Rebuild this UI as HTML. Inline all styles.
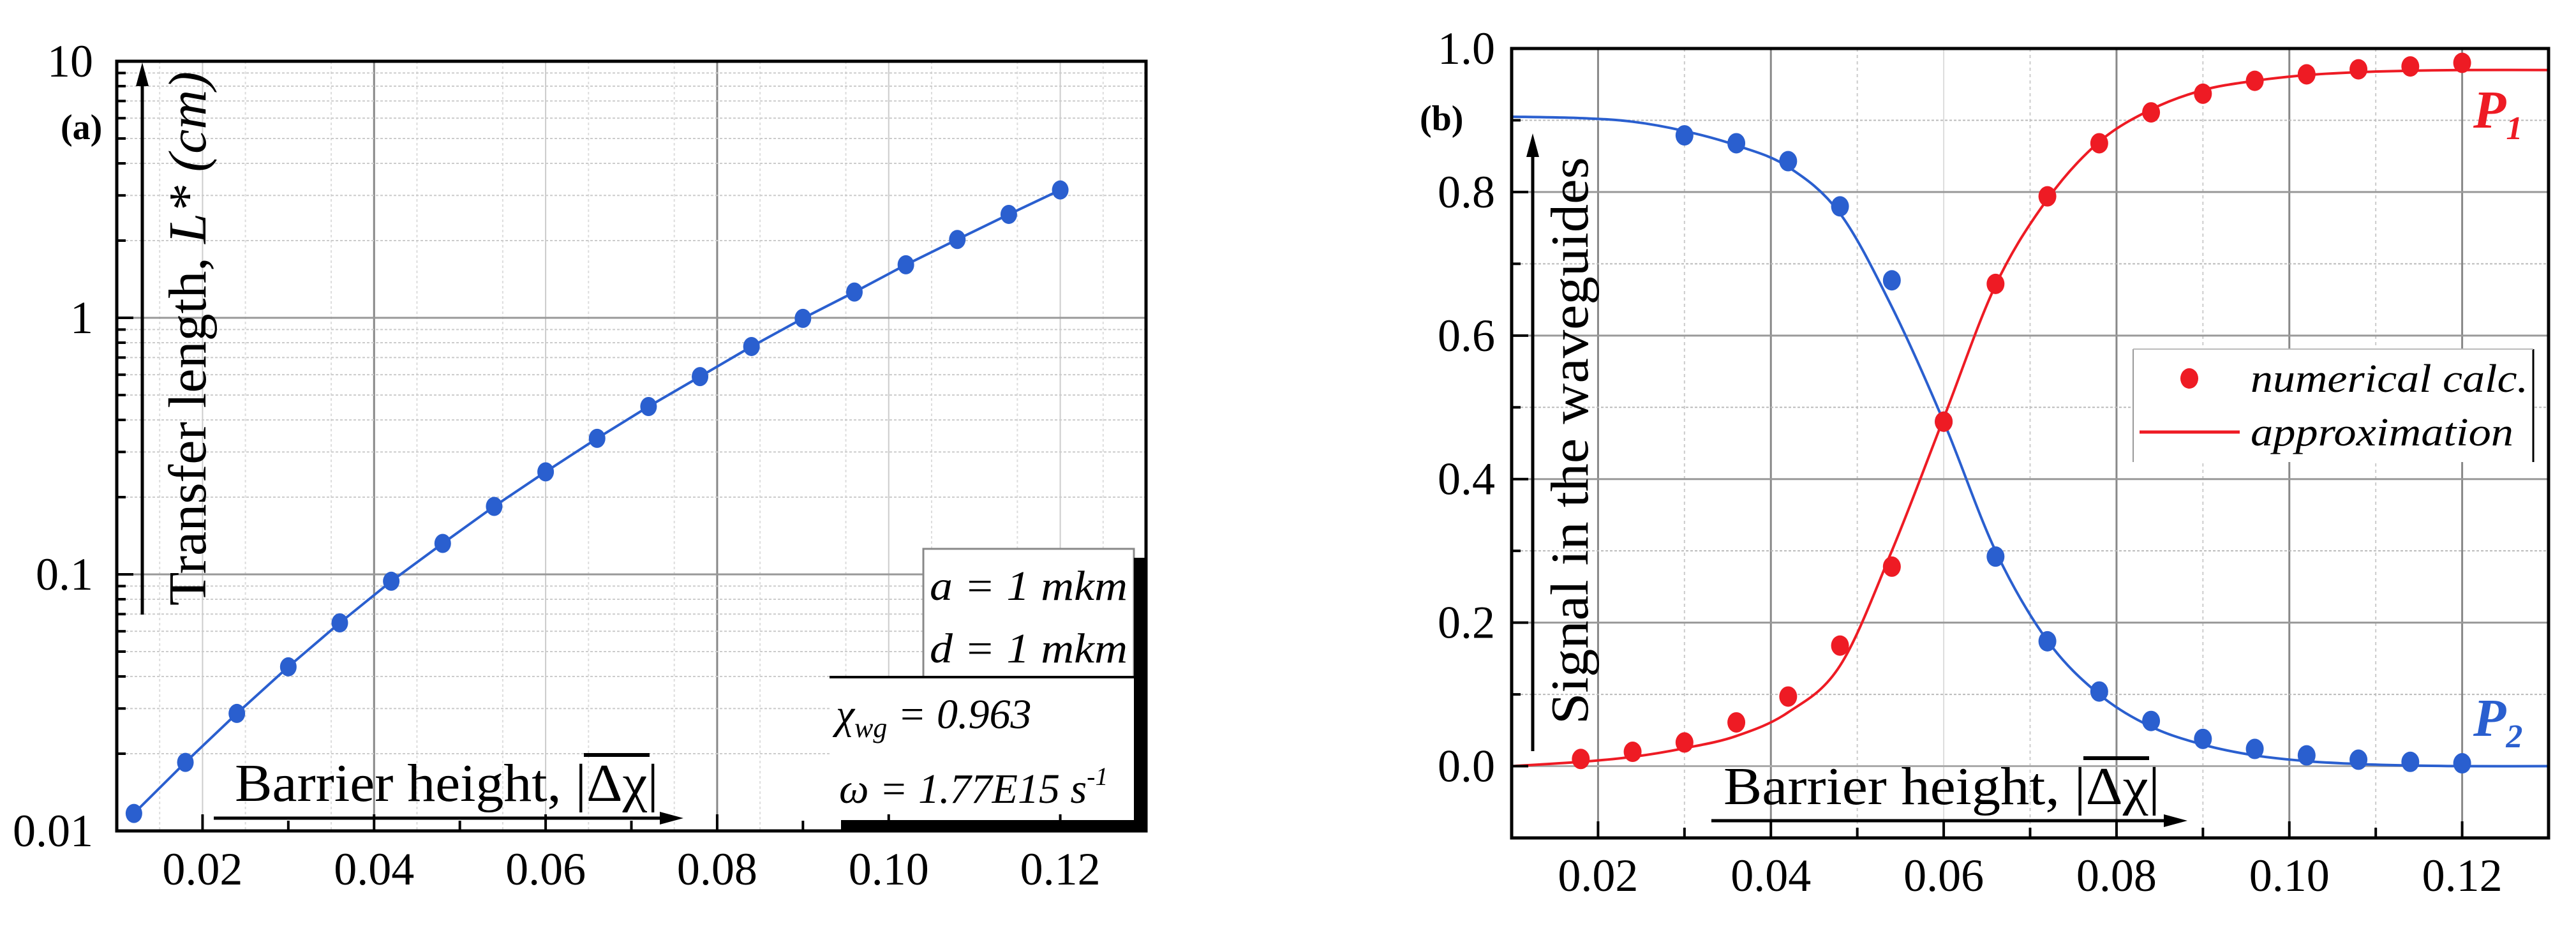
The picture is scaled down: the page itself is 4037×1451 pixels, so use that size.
<!DOCTYPE html>
<html><head><meta charset="utf-8">
<style>
html,body{margin:0;padding:0;background:#fff;}
svg{display:block;font-family:"Liberation Serif","Times New Roman",serif;}
text{font-family:"Liberation Serif","Times New Roman",serif;}
</style></head>
<body>
<svg id="fig" width="4037" height="1451" viewBox="0 0 4037 1451" font-family="Liberation Serif, serif" xmlns="http://www.w3.org/2000/svg">
<rect x="0" y="0" width="4037" height="1451" fill="#fff"/>
<g id="pa"></g>
<g id="pb"></g>
</svg>
<script>
// ---------- Panel (a) data ----------
const aX = [0.012,0.018,0.024,0.030,0.036,0.042,0.048,0.054,0.060,0.066,0.072,0.078,0.084,0.090,0.096,0.102,0.108,0.114,0.120];
const aL = [0.0117,0.0185,0.0287,0.0436,0.0647,0.094,0.132,0.184,0.251,0.339,0.451,0.590,0.773,0.995,1.26,1.61,2.02,2.53,3.15];
const aXTicks = [0.02,0.04,0.06,0.08,0.10,0.12];
const aXTickLabels = ["0.02","0.04","0.06","0.08","0.10","0.12"];
const aYTicks = [0.01,0.1,1,10];
const aYTickLabels = ["0.01","0.1","1","10"];
// ---------- Panel (b) data ----------
const p1X = [0.018,0.024,0.030,0.036,0.042,0.048,0.054,0.060,0.066,0.072,0.078,0.084,0.090,0.096,0.102,0.108,0.114,0.120];
const p1Y = [0.010,0.020,0.033,0.061,0.097,0.168,0.278,0.480,0.672,0.794,0.868,0.911,0.937,0.955,0.964,0.971,0.975,0.980];
const p2X = [0.030,0.036,0.042,0.048,0.054,0.060,0.066,0.072,0.078,0.084,0.090,0.096,0.102,0.108,0.114,0.120];
const p2Y = [0.879,0.868,0.843,0.780,0.677,0.480,0.292,0.174,0.104,0.063,0.038,0.024,0.015,0.009,0.006,0.004];
const fitX = [0.010,0.018,0.024,0.030,0.036,0.042,0.048,0.054,0.060,0.066,0.072,0.078,0.084,0.090,0.096,0.102,0.108,0.114,0.120,0.130];
const fit1Y = [0.0,0.006,0.013,0.025,0.042,0.075,0.14,0.30,0.485,0.67,0.79,0.87,0.915,0.942,0.955,0.963,0.967,0.969,0.97,0.97];
const fit2Y = [0.905,0.903,0.898,0.885,0.865,0.835,0.77,0.64,0.48,0.30,0.175,0.10,0.055,0.03,0.015,0.007,0.003,0.001,0.0,0.0];
const bXTicks = [0.02,0.04,0.06,0.08,0.10,0.12];
const bXTickLabels = ["0.02","0.04","0.06","0.08","0.10","0.12"];
const bYTicks = [0.0,0.2,0.4,0.6,0.8,1.0];
const bYTickLabels = ["0.0","0.2","0.4","0.6","0.8","1.0"];

const NS="http://www.w3.org/2000/svg";
const FF="Liberation Serif, Times New Roman, serif";
function mk(parent,tag,attrs,txt){const e=document.createElementNS(NS,tag);if(tag==='text')e.setAttribute('font-family',FF);for(const k in attrs)e.setAttribute(k,attrs[k]);if(txt!==undefined)e.textContent=txt;parent.appendChild(e);return e;}
const BLUE="#2a5fcf", RED="#ee1b24";

// ===== Panel A =====
const pa=document.getElementById('pa');
const A={l:183,r:1796,t:96,b:1302};
const ax=v=>A.l+(v-0.01)/(0.13-0.01)*(A.r-A.l);
const ay=v=>A.b-(Math.log10(v)+2)/3*(A.b-A.t);
for(let v=0.015;v<0.13;v+=0.01){const g=mk(pa,'line',{x1:ax(v),x2:ax(v),y1:A.t,y2:A.b,stroke:'#ddd','stroke-width':2,'stroke-dasharray':'4 4'});}
aXTicks.forEach(v=>{const dark=(Math.abs(v-0.04)<1e-6||Math.abs(v-0.08)<1e-6);const g=mk(pa,'line',{x1:ax(v),x2:ax(v),y1:A.t,y2:A.b,stroke:dark?'#888':'#ccc','stroke-width':dark?3:2});});
for(let d=-2;d<1;d++){for(let m=2;m<=9;m++){const v=m*Math.pow(10,d);const g=mk(pa,'line',{x1:A.l,x2:A.r,y1:ay(v),y2:ay(v),stroke:'#ccc','stroke-width':2,'stroke-dasharray':'4 3'});
const t=mk(pa,'line',{x1:A.l,x2:A.l+14,y1:ay(v),y2:ay(v),stroke:'#000','stroke-width':4});}}
[0.1,1].forEach(v=>{const g=mk(pa,'line',{x1:A.l,x2:A.r,y1:ay(v),y2:ay(v),stroke:'#999','stroke-width':3});});
let dA='';aX.forEach((x,i)=>{dA+=(i?'L':'M')+ax(x).toFixed(1)+','+ay(aL[i]).toFixed(1);});
const la=mk(pa,'path',{d:dA,fill:'none',stroke:BLUE,'stroke-width':4});
aX.forEach((x,i)=>{const c=mk(pa,'ellipse',{cx:ax(x),cy:ay(aL[i]),rx:13,ry:15,fill:BLUE});});
const box=mk(pa,'g',{});
mk(box,'rect',{x:1300,y:1061,width:477,height:224,fill:'#fff'});
mk(box,'rect',{x:1447,y:860,width:330,height:201,fill:'#fff',stroke:'#888','stroke-width':3});
mk(box,'line',{x1:1300,x2:1777,y1:1061,y2:1061,stroke:'#000','stroke-width':4});
mk(box,'rect',{x:1777,y:874,width:20,height:428,fill:'#000'});
mk(box,'rect',{x:1318,y:1285,width:479,height:17,fill:'#000'});
mk(box,'text',{x:1457,y:940,'font-size':66,'font-style':'italic',textLength:310,lengthAdjust:'spacingAndGlyphs'},'a = 1 mkm');
mk(box,'text',{x:1457,y:1038,'font-size':66,'font-style':'italic',textLength:310,lengthAdjust:'spacingAndGlyphs'},'d = 1 mkm');
const tchi=mk(box,'text',{x:1310,y:1141,'font-size':66,'font-style':'italic'});
mk(tchi,'tspan',{},'χ');mk(tchi,'tspan',{'font-size':44,dy:14},'wg');mk(tchi,'tspan',{dy:-14},' = 0.963');
const tom=mk(box,'text',{x:1315,y:1258,'font-size':66,'font-style':'italic'});
mk(tom,'tspan',{},'ω = 1.77E15 s');mk(tom,'tspan',{'font-size':40,dy:-28},'-1');
const fa=mk(pa,'rect',{x:A.l,y:A.t,width:A.r-A.l,height:A.b-A.t,fill:'none',stroke:'#000','stroke-width':5});
for(let v=0.02;v<0.13;v+=0.01){const major=Math.round(v*100)%2===0;const t=mk(pa,'line',{x1:ax(v),x2:ax(v),y1:A.b,y2:A.b-(major?26:16),stroke:'#000','stroke-width':4});}
aXTicks.forEach((v,i)=>{const t=mk(pa,'text',{x:ax(v),y:1386,'font-size':72,'text-anchor':'middle'},aXTickLabels[i]);});
aYTicks.forEach((v,i)=>{const t=mk(pa,'text',{x:146,y:ay(v)+24,'font-size':72,'text-anchor':'end'},aYTickLabels[i]);
const k=mk(pa,'line',{x1:A.l,x2:A.l+26,y1:ay(v),y2:ay(v),stroke:'#000','stroke-width':4});});
const lblA=mk(pa,'text',{x:95,y:218,'font-size':56,'font-weight':'bold'},'(a)');
mk(pa,'line',{x1:223,x2:223,y1:963,y2:130,stroke:'#000','stroke-width':5});
mk(pa,'polygon',{points:'223,98 213,135 233,135',fill:'#000'});
const ytA=mk(pa,'text',{transform:'translate(322,949) rotate(-90)','font-size':84,textLength:837,lengthAdjust:'spacingAndGlyphs'});
mk(ytA,'tspan',{},'Transfer length, ');mk(ytA,'tspan',{'font-style':'italic'},'L* (cm)');

mk(pa,'line',{x1:335,x2:1040,y1:1282,y2:1282,stroke:'#000','stroke-width':5});
mk(pa,'polygon',{points:'1071,1282 1034,1272 1034,1292',fill:'#000'});
const xtA=mk(pa,'text',{x:368,y:1255,'font-size':84,textLength:664,lengthAdjust:'spacingAndGlyphs'},'Barrier height, |Δχ|');

mk(pa,'line',{x1:915,x2:1018,y1:1183,y2:1183,stroke:'#000','stroke-width':6});

// ===== Panel B =====
const pb=document.getElementById('pb');
const B={l:2369,r:3994,t:76,b:1313};
const bx=v=>B.l+(v-0.01)/(0.12)*(B.r-B.l);
const by=v=>B.b-(v+0.1)/1.1*(B.b-B.t);
for(let v=0.03;v<0.13;v+=0.02){const g=mk(pb,'line',{x1:bx(v),x2:bx(v),y1:B.t,y2:B.b,stroke:'#ccc','stroke-width':2,'stroke-dasharray':'5 5'});}
bXTicks.forEach(v=>{const light=Math.abs(v-0.06)<1e-6;const g=mk(pb,'line',{x1:bx(v),x2:bx(v),y1:B.t,y2:B.b,stroke:light?'#ddd':'#888','stroke-width':light?2:3});});
for(let v=0.1;v<1;v+=0.2){const g=mk(pb,'line',{x1:B.l,x2:B.r,y1:by(v),y2:by(v),stroke:'#bbb','stroke-width':2,'stroke-dasharray':'4 3'});
const t=mk(pb,'line',{x1:B.l,x2:B.l+14,y1:by(v),y2:by(v),stroke:'#000','stroke-width':4});}
bYTicks.forEach(v=>{if(v>0&&v<1){const g=mk(pb,'line',{x1:B.l,x2:B.r,y1:by(v),y2:by(v),stroke:'#999','stroke-width':3});}});
mk(pb,'line',{x1:B.l,x2:B.r,y1:by(0),y2:by(0),stroke:'#aaa','stroke-width':3});
function smooth(xs,ys){const p=xs.map((x,i)=>[bx(x),by(ys[i])]);let d='M'+p[0][0]+','+p[0][1];
for(let i=0;i<p.length-1;i++){const p0=p[i-1]||p[i],p1=p[i],p2=p[i+1],p3=p[i+2]||p2;
const c1=[p1[0]+(p2[0]-p0[0])/6,p1[1]+(p2[1]-p0[1])/6],c2=[p2[0]-(p3[0]-p1[0])/6,p2[1]-(p3[1]-p1[1])/6];
d+='C'+c1.map(n=>n.toFixed(1))+' '+c2.map(n=>n.toFixed(1))+' '+p2.map(n=>n.toFixed(1));}return d;}
const f2=mk(pb,'path',{d:smooth(fitX,fit2Y),fill:'none',stroke:BLUE,'stroke-width':4});
const f1=mk(pb,'path',{d:smooth(fitX,fit1Y),fill:'none',stroke:RED,'stroke-width':4});
p2X.forEach((x,i)=>{const c=mk(pb,'ellipse',{cx:bx(x),cy:by(p2Y[i]),rx:14,ry:16,fill:BLUE});});
p1X.forEach((x,i)=>{const c=mk(pb,'ellipse',{cx:bx(x),cy:by(p1Y[i]),rx:14,ry:16,fill:RED});});
const fb=mk(pb,'rect',{x:B.l,y:B.t,width:B.r-B.l,height:B.b-B.t,fill:'none',stroke:'#000','stroke-width':5});
for(let v=0.02;v<0.13;v+=0.01){const major=Math.round(v*100)%2===0;const t=mk(pb,'line',{x1:bx(v),x2:bx(v),y1:B.b,y2:B.b-(major?26:16),stroke:'#000','stroke-width':4});}
bXTicks.forEach((v,i)=>{const t=mk(pb,'text',{x:bx(v),y:1396,'font-size':72,'text-anchor':'middle'},bXTickLabels[i]);});
bYTicks.forEach((v,i)=>{const t=mk(pb,'text',{x:2343,y:by(v)+24,'font-size':72,'text-anchor':'end'},bYTickLabels[i]);
const k=mk(pb,'line',{x1:B.l,x2:B.l+26,y1:by(v),y2:by(v),stroke:'#000','stroke-width':4});});
const lblB=mk(pb,'text',{x:2225,y:204,'font-size':56,'font-weight':'bold'},'(b)');
mk(pb,'line',{x1:2402,x2:2402,y1:1177,y2:240,stroke:'#000','stroke-width':5});
mk(pb,'polygon',{points:'2402,209 2392,246 2412,246',fill:'#000'});
const ytB=mk(pb,'text',{transform:'translate(2488,1135) rotate(-90)','font-size':84,textLength:889,lengthAdjust:'spacingAndGlyphs'},'Signal in the waveguides');

mk(pb,'line',{x1:2682,x2:3395,y1:1286,y2:1286,stroke:'#000','stroke-width':5});
mk(pb,'polygon',{points:'3428,1286 3391,1276 3391,1296',fill:'#000'});
const xtB=mk(pb,'text',{x:2701,y:1260,'font-size':84,textLength:684,lengthAdjust:'spacingAndGlyphs'},'Barrier height, |Δχ|');

mk(pb,'line',{x1:3265,x2:3368,y1:1188,y2:1188,stroke:'#000','stroke-width':6});
const lg=mk(pb,'g',{});
mk(lg,'rect',{x:3343,y:547,width:627,height:177,fill:'#fff'});
mk(lg,'line',{x1:3343,x2:3343,y1:547,y2:724,stroke:'#999','stroke-width':2});
mk(lg,'line',{x1:3970,x2:3970,y1:547,y2:724,stroke:'#000','stroke-width':3});
mk(lg,'line',{x1:3343,x2:3970,y1:547,y2:547,stroke:'#bbb','stroke-width':2});
const le1=mk(lg,'ellipse',{cx:3431,cy:593,rx:14,ry:16,fill:RED});
mk(lg,'text',{x:3527,y:614,'font-size':62,'font-style':'italic',textLength:435,lengthAdjust:'spacingAndGlyphs'},'numerical calc.');
const le2=mk(lg,'line',{x1:3353,x2:3510,y1:677,y2:677,stroke:RED,'stroke-width':5});
mk(lg,'text',{x:3527,y:698,'font-size':62,'font-style':'italic',textLength:412,lengthAdjust:'spacingAndGlyphs'},'approximation');
const P1=mk(pb,'text',{x:3876,y:200,'font-size':84,'font-style':'italic','font-weight':'bold',fill:RED});
mk(P1,'tspan',{},'P');mk(P1,'tspan',{'font-size':52,dy:18},'1');
const P2=mk(pb,'text',{x:3876,y:1153,'font-size':84,'font-style':'italic','font-weight':'bold',fill:BLUE});
mk(P2,'tspan',{},'P');mk(P2,'tspan',{'font-size':52,dy:18},'2');
</script>
</body></html>
